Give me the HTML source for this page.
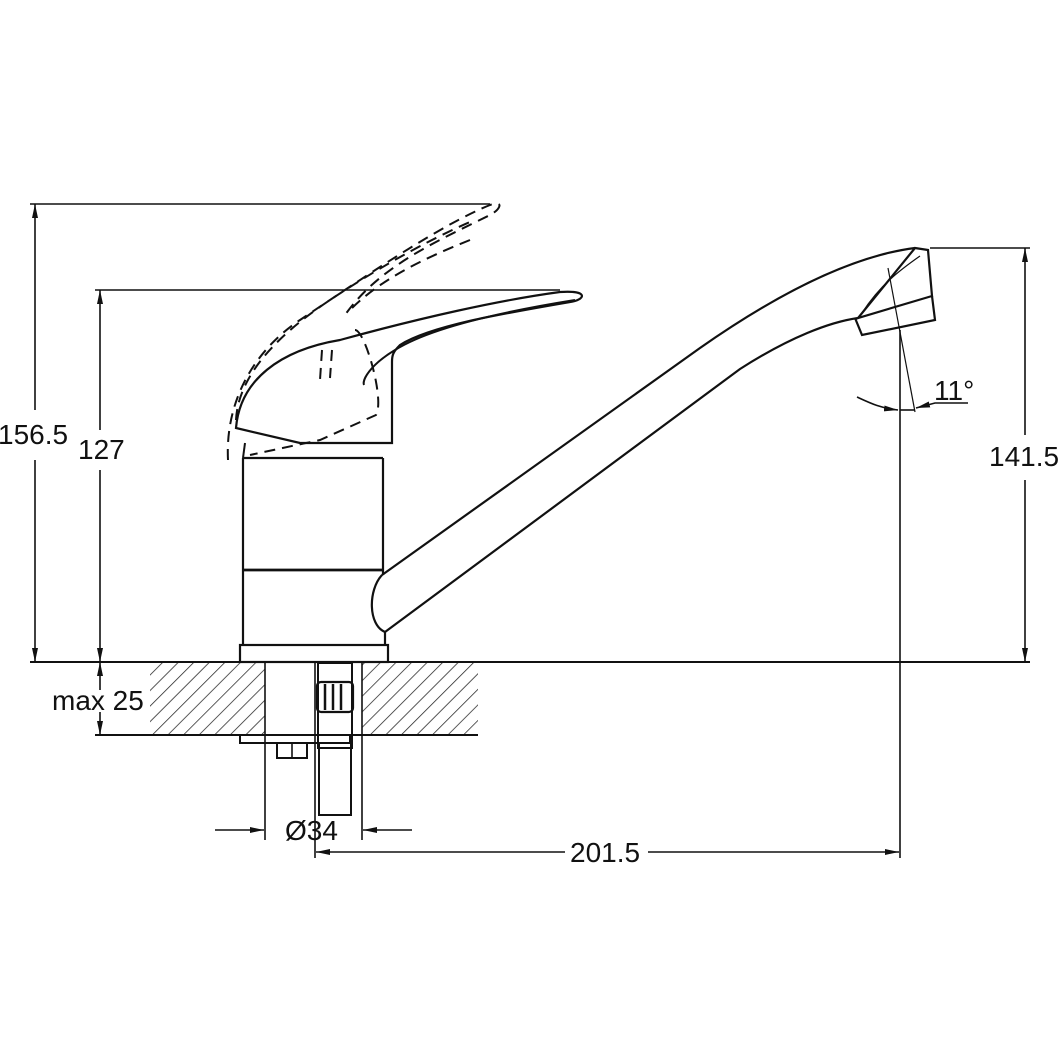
<!DOCTYPE html>
<html><head><style>html,body{margin:0;padding:0;background:#fff}svg{display:block}text{font-family:"Liberation Sans",sans-serif;font-size:28px;fill:#111}</style></head>
<body>
<svg width="1063" height="1063" viewBox="0 0 1063 1063" xmlns="http://www.w3.org/2000/svg">
<defs>
<pattern id="h" width="11" height="11" patternUnits="userSpaceOnUse" patternTransform="rotate(45)">
<line x1="0" y1="0" x2="0" y2="11" stroke="#222" stroke-width="1.5"/></pattern>
<marker id="a" markerWidth="14" markerHeight="8" refX="14" refY="4" orient="auto" markerUnits="userSpaceOnUse"><path d="M0,1 L14,4 L0,7 Z" fill="#111"/></marker>
</defs>
<g stroke="#111" fill="none" stroke-width="1.6">
<!-- counter -->
<rect x="150" y="663" width="115" height="72" fill="url(#h)" stroke="none"/>
<rect x="362" y="663" width="116" height="72" fill="url(#h)" stroke="none"/>
<line x1="30" y1="662" x2="1030" y2="662" stroke-width="2"/>
<line x1="95" y1="735" x2="478" y2="735" stroke-width="2"/>
<line x1="265" y1="662" x2="265" y2="840"/>
<line x1="362" y1="662" x2="362" y2="840"/>
<!-- under counter parts -->
<rect x="240" y="735" width="110" height="8" stroke-width="2"/>
<rect x="277" y="743" width="30" height="15" stroke-width="2"/>
<line x1="292" y1="743" x2="292" y2="758"/>
<rect x="318" y="663" width="34" height="85" stroke-width="2"/>
<rect x="319" y="743" width="32" height="72" stroke-width="2"/>
<rect x="317" y="682" width="36" height="30" rx="4" stroke-width="2.2"/>
<line x1="325" y1="684" x2="325" y2="710" stroke-width="2.5"/><line x1="333" y1="684" x2="333" y2="710" stroke-width="2.5"/><line x1="341" y1="684" x2="341" y2="710" stroke-width="2.5"/>
<line x1="315" y1="662" x2="315" y2="858"/>
<!-- body -->
<rect x="240" y="645" width="148" height="17" stroke-width="2.2"/>
<line x1="243" y1="458" x2="243" y2="645" stroke-width="2.2"/>
<line x1="383" y1="458" x2="383" y2="575" stroke-width="2.2"/>
<line x1="385" y1="632" x2="385" y2="645" stroke-width="2.2"/>
<line x1="243" y1="458" x2="383" y2="458" stroke-width="2.2"/>
<line x1="243" y1="570" x2="383" y2="570" stroke-width="2.8"/>
<line x1="245" y1="443" x2="243" y2="458" stroke-width="2"/>
<!-- spout -->
<path d="M382,575 L700,348 C790,285 860,255 915,248" stroke-width="2.2"/>
<path d="M382,575 C368,590 368,625 385,632 L740,369 C790,337 830,322 858,318" stroke-width="2.2"/>
<path d="M915,248 L928,250 L932,296 L858,318 Z" stroke-width="2.2"/>
<path d="M855,318 L862,335 L935,320 L932,296" stroke-width="2.2"/>
<path d="M920,256 C900,270 880,285 862,313" stroke-width="1.2"/>
<!-- lever -->
<path d="M236,428 C240,380 280,350 340,340 C420,318 500,300 560,292 C590,290 585,300 570,302 C500,314 430,326 400,345 C393,352 392,355 392,362 L392,443 L300,443 Z" stroke-width="2.2"/>
<path d="M575,300 C500,312 430,328 395,350 C370,365 362,380 364,385" stroke-width="2"/>
<!-- dashed lever -->
<g stroke-dasharray="11,7" stroke-width="2">
<path d="M228,460 C225,400 255,350 300,320 C360,280 440,225 490,205 C505,200 500,210 490,215 C440,240 380,265 345,315"/>
<path d="M236,420 C238,380 270,340 330,300 C390,260 440,235 470,222"/>
<path d="M470,240 C420,260 380,280 350,310"/>
<path d="M355,330 C365,330 385,400 376,415 L320,440 L250,455"/>
<path d="M322,350 L320,380"/><path d="M332,350 L330,378"/>
</g>
<!-- dimensions -->
<line x1="30" y1="204" x2="490" y2="204"/>
<line x1="95" y1="290" x2="560" y2="290"/>
<line x1="930" y1="248" x2="1030" y2="248"/>
<line x1="35" y1="410" x2="35" y2="204" marker-end="url(#a)"/>
<line x1="35" y1="460" x2="35" y2="662" marker-end="url(#a)"/>
<line x1="100" y1="430" x2="100" y2="290" marker-end="url(#a)"/>
<line x1="100" y1="470" x2="100" y2="662" marker-end="url(#a)"/>
<line x1="1025" y1="435" x2="1025" y2="248" marker-end="url(#a)"/>
<line x1="1025" y1="480" x2="1025" y2="662" marker-end="url(#a)"/>
<line x1="100" y1="690" x2="100" y2="662" marker-end="url(#a)"/>
<line x1="100" y1="712" x2="100" y2="735" marker-end="url(#a)"/>
<line x1="900" y1="330" x2="900" y2="858"/>
<line x1="565" y1="852" x2="316" y2="852" marker-end="url(#a)"/>
<line x1="648" y1="852" x2="899" y2="852" marker-end="url(#a)"/>
<line x1="215" y1="830" x2="264" y2="830" marker-end="url(#a)"/>
<line x1="412" y1="830" x2="363" y2="830" marker-end="url(#a)"/>
<line x1="888" y1="268" x2="915" y2="412" stroke-width="1.2"/>
<path d="M857,397 C870,403 880,408 898,410" marker-end="url(#a)"/>
<line x1="900" y1="410" x2="915" y2="410"/>
<path d="M968,403 L935,403 L916,408" marker-end="url(#a)"/>
</g>
<text x="-2" y="444">156.5</text>
<text x="78" y="459">127</text>
<text x="989" y="466">141.5</text>
<text x="52" y="710">max 25</text>
<text x="285" y="840">Ø34</text>
<text x="570" y="862">201.5</text>
<text x="934" y="400">11°</text>
</svg>
</body></html>
